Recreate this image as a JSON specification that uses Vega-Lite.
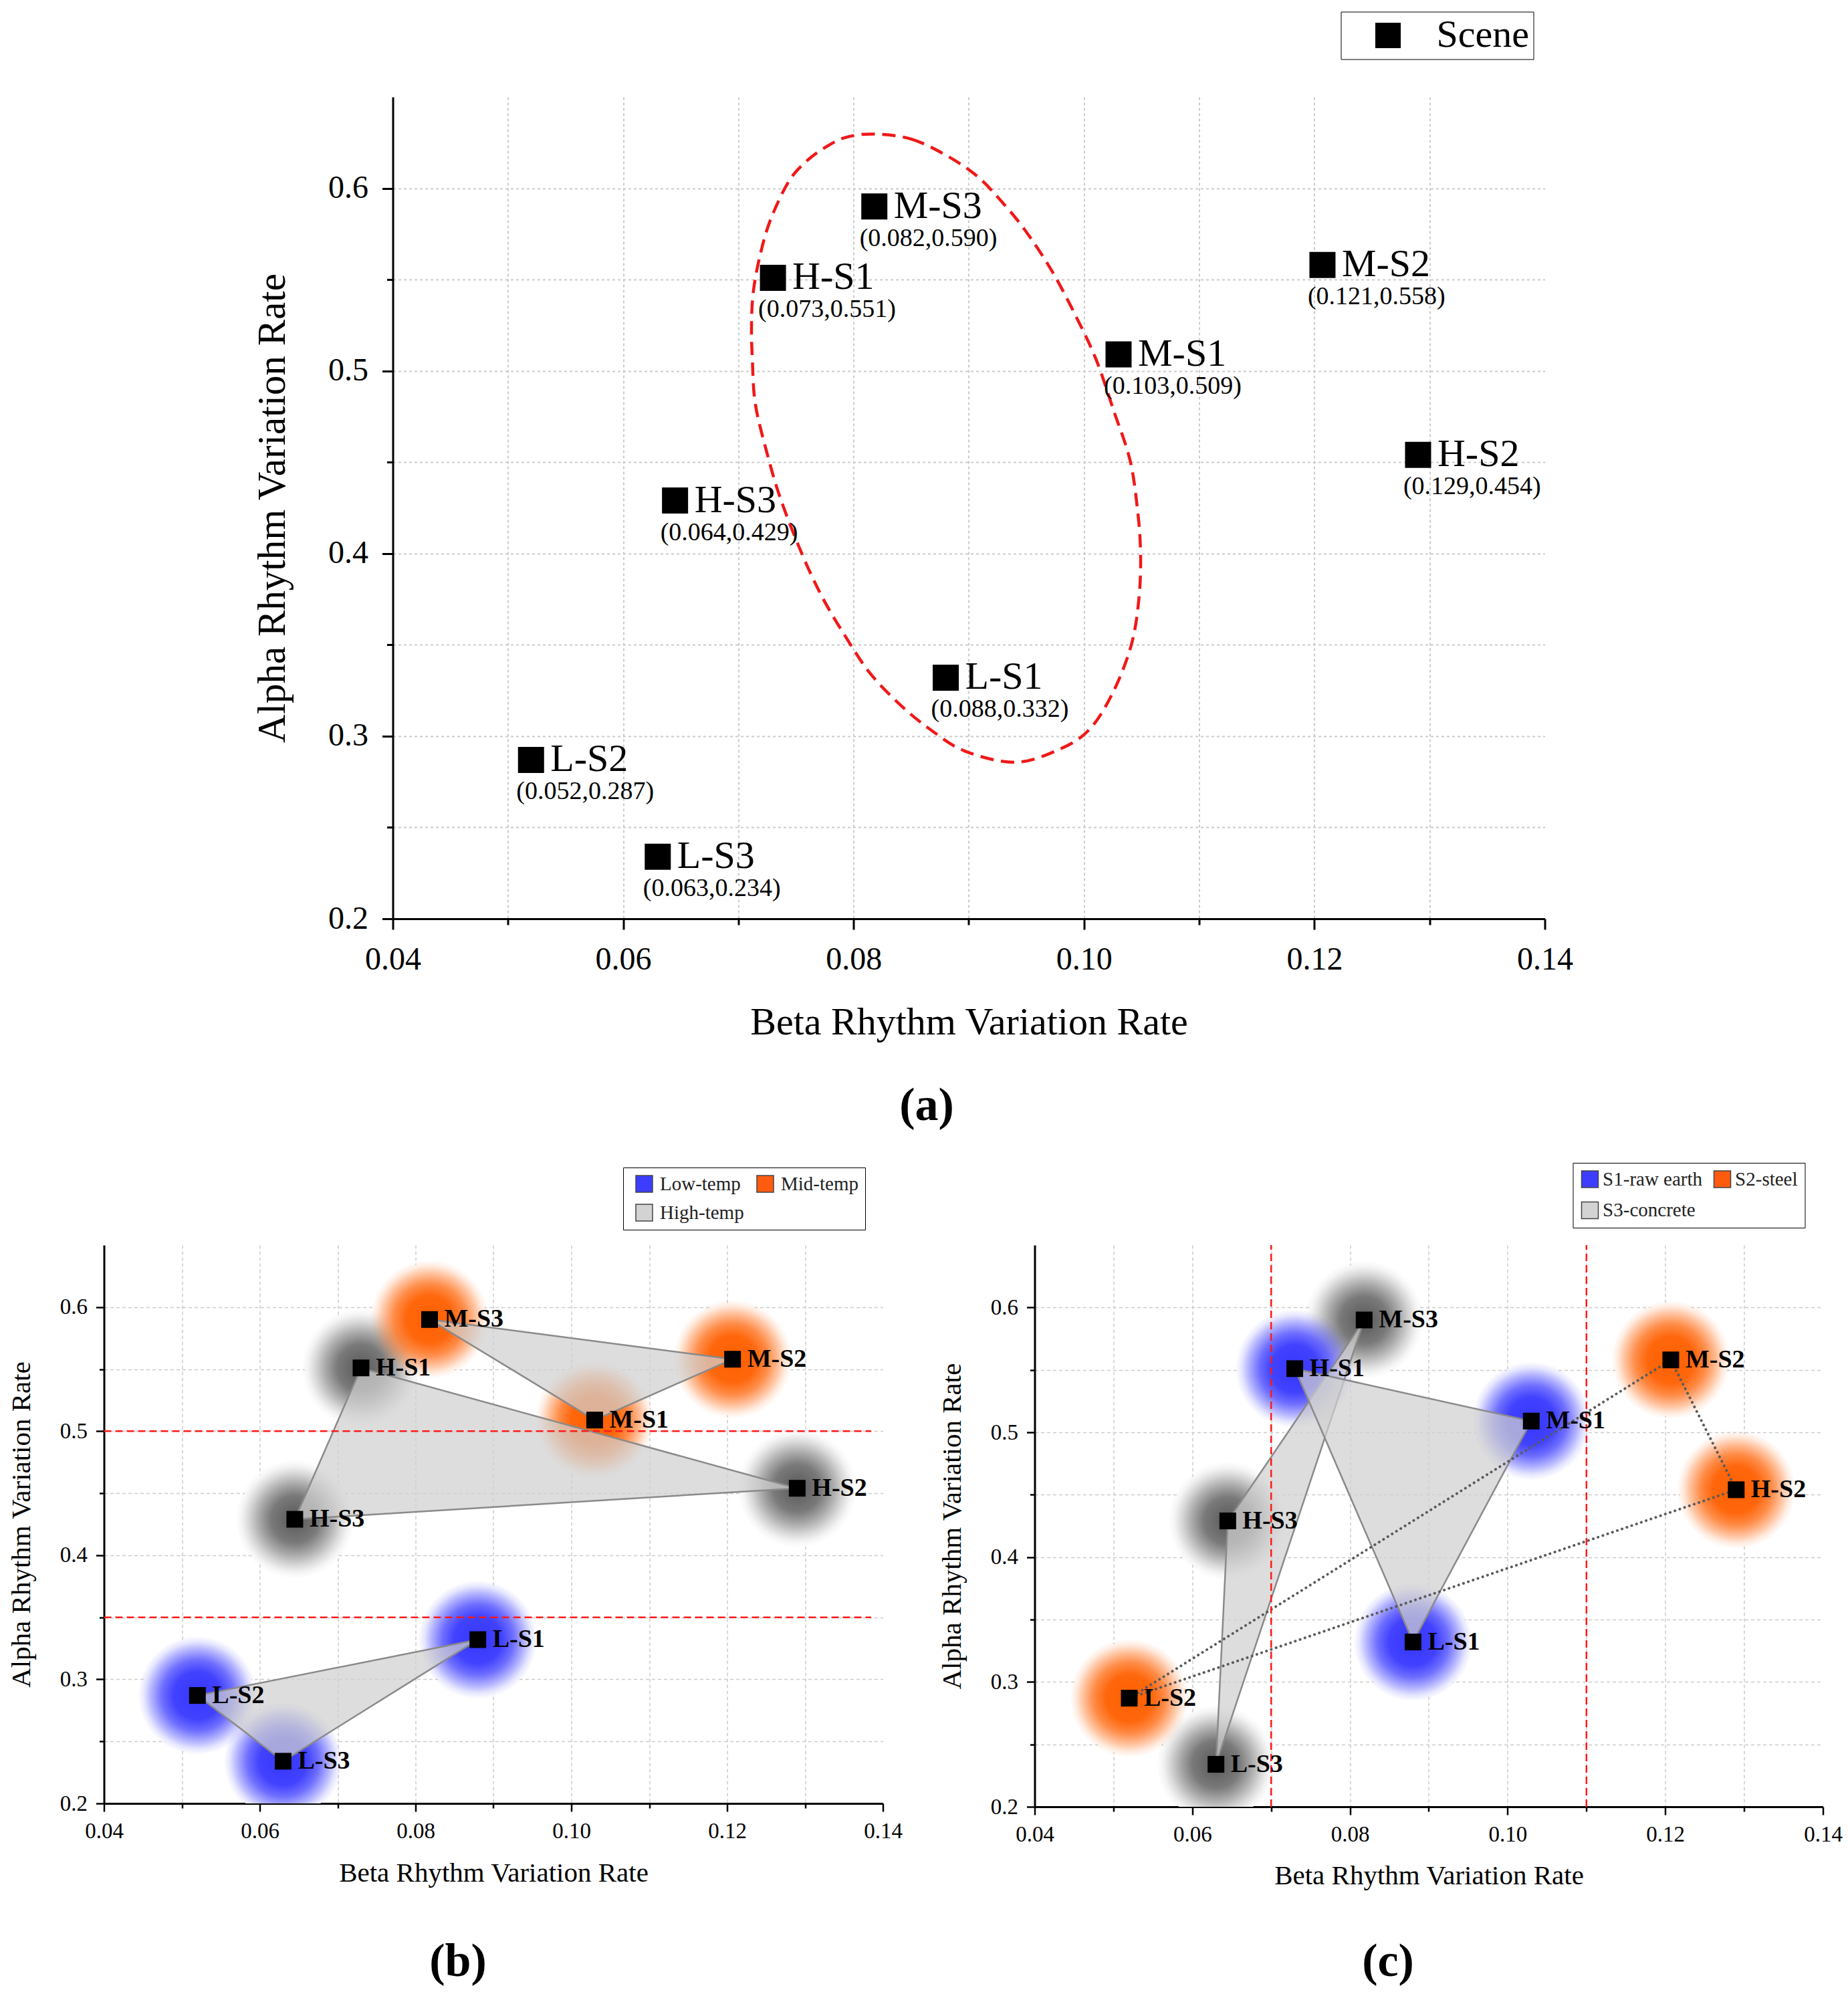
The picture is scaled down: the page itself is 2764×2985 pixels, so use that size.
{
"$schema": "https://vega.github.io/schema/vega-lite/v6.json",
"background": "#ffffff",
"padding": {"left": 11.5, "top": 17, "right": 10, "bottom": 10},
"config": {
 "font": "Liberation Serif",
 "view": {"stroke": null},
 "axis": {"labelFont": "Liberation Serif", "titleFont": "Liberation Serif", "labelColor": "#000", "titleColor": "#000", "domainColor": "#000", "tickColor": "#000", "titleFontWeight": "normal", "labelFlush": false, "labelOverlap": false},
 "legend": {"labelFont": "Liberation Serif"},
 "title": {"font": "Liberation Serif", "color": "#000"}
},
"datasets": {
 "pts": [
  {"name":"M-S3","x":0.0818,"y":0.590,"coord":"(0.082,0.590)","temp":"Mid-temp","scene":"S3-concrete"},
  {"name":"H-S1","x":0.073,"y":0.551,"coord":"(0.073,0.551)","temp":"High-temp","scene":"S1-raw earth"},
  {"name":"M-S2","x":0.1207,"y":0.558,"coord":"(0.121,0.558)","temp":"Mid-temp","scene":"S2-steel"},
  {"name":"M-S1","x":0.103,"y":0.509,"coord":"(0.103,0.509)","temp":"Mid-temp","scene":"S1-raw earth"},
  {"name":"H-S2","x":0.129,"y":0.454,"coord":"(0.129,0.454)","temp":"High-temp","scene":"S2-steel"},
  {"name":"H-S3","x":0.0645,"y":0.429,"coord":"(0.064,0.429)","temp":"High-temp","scene":"S3-concrete"},
  {"name":"L-S1","x":0.088,"y":0.332,"coord":"(0.088,0.332)","temp":"Low-temp","scene":"S1-raw earth"},
  {"name":"L-S2","x":0.052,"y":0.287,"coord":"(0.052,0.287)","temp":"Low-temp","scene":"S2-steel"},
  {"name":"L-S3","x":0.063,"y":0.234,"coord":"(0.063,0.234)","temp":"Low-temp","scene":"S3-concrete"}
 ],
 "ellipse": [
  {"i":1,"x":0.0818,"y":0.6297},{"i":2,"x":0.08503,"y":0.6269},{"i":3,"x":0.08813,"y":0.6177},
  {"i":4,"x":0.09071,"y":0.6067},{"i":5,"x":0.09277,"y":0.5933},{"i":6,"x":0.09484,"y":0.5774},
  {"i":7,"x":0.09716,"y":0.5553},{"i":8,"x":0.09923,"y":0.5308},{"i":9,"x":0.10104,"y":0.5064},
  {"i":10,"x":0.10258,"y":0.4782},{"i":11,"x":0.10400,"y":0.4510},{"i":12,"x":0.10465,"y":0.4237},
  {"i":13,"x":0.10491,"y":0.4005},{"i":14,"x":0.10478,"y":0.3761},{"i":15,"x":0.10413,"y":0.3505},
  {"i":16,"x":0.10258,"y":0.3248},{"i":17,"x":0.10052,"y":0.3040},{"i":18,"x":0.09794,"y":0.2930},
  {"i":19,"x":0.09406,"y":0.2857},{"i":20,"x":0.08967,"y":0.2918},{"i":21,"x":0.08658,"y":0.3040},
  {"i":22,"x":0.08399,"y":0.3175},{"i":23,"x":0.08141,"y":0.3346},{"i":24,"x":0.07934,"y":0.3541},
  {"i":25,"x":0.07728,"y":0.3761},{"i":26,"x":0.07547,"y":0.4005},{"i":27,"x":0.07367,"y":0.4298},
  {"i":28,"x":0.07250,"y":0.4546},{"i":29,"x":0.07147,"y":0.4819},{"i":30,"x":0.07121,"y":0.5064},
  {"i":31,"x":0.07114,"y":0.5247},{"i":32,"x":0.07129,"y":0.5431},{"i":33,"x":0.07186,"y":0.5627},
  {"i":34,"x":0.07276,"y":0.5823},{"i":35,"x":0.07431,"y":0.6031},{"i":36,"x":0.07578,"y":0.6141},
  {"i":37,"x":0.07754,"y":0.6224},{"i":38,"x":0.07935,"y":0.6279}
 ],
 "hlines": [{"x":0.04,"x2":0.1385,"y":0.5},{"x":0.04,"x2":0.1385,"y":0.35}],
 "vlines": [{"x":0.07,"y":0.2,"y2":0.65},{"x":0.11,"y":0.2,"y2":0.65}]
},
"resolve": {"scale": {"color": "independent", "fill": "independent"}, "legend": {"color": "independent", "fill": "independent"}},
"spacing": 49,
"vconcat": [
 {
  "resolve": {"scale": {"color": "independent"}, "legend": {"color": "independent"}},
  "hconcat": [
   {"width": 432, "height": 10, "data": {"values": []}, "mark": {"type": "point", "opacity": 0}},
   {
    "width": 1723, "height": 1229,
    "title": {"text": "(a)", "orient": "bottom", "anchor": "middle", "frame": "group", "dx": -63, "offset": 116, "baseline": "alphabetic", "fontSize": 70, "fontWeight": "bold"},
    "encoding": {
     "x": {"field":"x","type":"quantitative","scale":{"domain":[0.04,0.14],"nice":false,"zero":false},
       "axis":{"title":"Beta Rhythm Variation Rate","values":[0.04,0.05,0.06,0.07,0.08,0.09,0.1,0.11,0.12,0.13,0.14],"format":".2f","labelExpr":"round(datum.value*100)%2==0 ? datum.label : ''","labelFontSize":48,"labelPadding":21,"tickSize":{"condition":{"test":"round(datum.value*100)%2==0","value":16},"value":9},"tickWidth":3,"domainWidth":3,"grid":true,"gridColor":"#cbcbcb","gridDash":[4,4],"gridWidth":2,"gridOpacity":{"condition":{"test":"datum.value<0.045||datum.value>0.135","value":0},"value":1},"titleFontSize":58,"titleBaseline":"alphabetic","titleY":172.5}},
     "y": {"field":"y","type":"quantitative","scale":{"domain":[0.2,0.65],"nice":false,"zero":false},
       "axis":{"title":"Alpha Rhythm Variation Rate","values":[0.2,0.25,0.3,0.35,0.4,0.45,0.5,0.55,0.6],"format":".1f","labelExpr":"round(datum.value*20)%2==0 ? datum.label : ''","labelFontSize":48,"labelPadding":21,"tickSize":{"condition":{"test":"round(datum.value*20)%2==0","value":16},"value":9},"tickWidth":3,"domainWidth":3,"grid":true,"gridColor":"#cbcbcb","gridDash":[4,4],"gridWidth":2,"gridOpacity":{"condition":{"test":"datum.value<0.21","value":0},"value":1},"titleFontSize":59,"titleBaseline":"alphabetic","titleX":-162}}
    },
    "layer": [
     {"data": {"name": "ellipse"}, "mark": {"type":"line","interpolate":"cardinal-closed","stroke":"#f01818","strokeWidth":4.5,"strokeDash":[20,11]}, "encoding": {"order": {"field":"i","type":"quantitative"}}},
     {"data": {"name": "pts"}, "mark": {"type":"square","size":1521,"opacity":1},
      "encoding": {"color": {"datum":"Scene","type":"nominal","scale":{"range":["#000000"]},
        "legend":{"orient":"none","legendX":1418,"legendY":-127.5,"title":null,"symbolType":"square","symbolSize":1444,"symbolOpacity":1,"symbolStrokeWidth":0,"labelFontSize":58,"labelColor":"#000","padding":6.5,"symbolOffset":35,"labelOffset":43.5,"strokeColor":"#000","fillColor":"#ffffff"}}}},
     {"data": {"name": "pts"}, "mark": {"type":"text","align":"left","baseline":"middle","dx":29,"fontSize":58,"fontWeight":"normal","color":"#000"}, "encoding": {"text": {"field":"name"}}},
     {"data": {"name": "pts"}, "mark": {"type":"text","align":"left","baseline":"middle","dx":-22,"dy":48,"fontSize":38,"color":"#000"}, "encoding": {"text": {"field":"coord"}}}
    ]
   }
  ],
  "spacing": 0,
  "bounds": "flush"
 },
 {
  "resolve": {"scale": {"fill": "independent"}, "legend": {"fill": "independent"}},
  "hconcat": [
   {
    "width": 1165, "height": 835,
    "title": {"text": "(b)", "orient": "bottom", "anchor": "middle", "frame": "group", "dx": -53, "offset": 133.8, "baseline": "alphabetic", "fontSize": 70, "fontWeight": "bold"},
    "data": {"name": "pts"},
    "encoding": {
     "x": {"field":"x","type":"quantitative","scale":{"domain":[0.04,0.14],"nice":false,"zero":false},
       "axis":{"title":"Beta Rhythm Variation Rate","values":[0.04,0.05,0.06,0.07,0.08,0.09,0.1,0.11,0.12,0.13,0.14],"format":".2f","labelExpr":"round(datum.value*100)%2==0 ? datum.label : ''","labelFontSize":33,"labelPadding":13,"tickSize":{"condition":{"test":"round(datum.value*100)%2==0","value":12},"value":7},"tickWidth":2.5,"domainWidth":3,"grid":true,"gridColor":"#cccccc","gridDash":[5,4],"gridWidth":1.5,"gridOpacity":{"condition":{"test":"datum.value<0.045||datum.value>0.135","value":0},"value":1},"titleFontSize":41,"titleBaseline":"alphabetic","titleY":116}},
     "y": {"field":"y","type":"quantitative","scale":{"domain":[0.2,0.65],"nice":false,"zero":false},
       "axis":{"title":"Alpha Rhythm Variation Rate","values":[0.2,0.25,0.3,0.35,0.4,0.45,0.5,0.55,0.6],"format":".1f","labelExpr":"round(datum.value*20)%2==0 ? datum.label : ''","labelFontSize":33,"labelPadding":13,"tickSize":{"condition":{"test":"round(datum.value*20)%2==0","value":12},"value":7},"tickWidth":2.5,"domainWidth":3,"grid":true,"gridColor":"#cccccc","gridDash":[5,4],"gridWidth":1.5,"gridOpacity":{"condition":{"test":"datum.value<0.21","value":0},"value":1},"titleFontSize":41,"titleBaseline":"alphabetic","titleX":-110.7}}
    },
    "layer": [
     {"mark":{"type":"circle","size":28353,"opacity":1,"strokeWidth":0,"fill":"#ffffff","clip":true}},
     {"transform":[{"filter":"datum.temp==='High-temp'"}],"mark":{"type":"circle","size":31416,"opacity":1,"strokeWidth":0,"clip":true,"fill":{"gradient":"radial","x1":0.5,"y1":0.5,"r1":0,"x2":0.5,"y2":0.5,"r2":0.5,"stops":[{"offset":0,"color":"rgba(65,65,65,0.88)"},{"offset":0.4,"color":"rgba(65,65,65,0.7)"},{"offset":0.6,"color":"rgba(65,65,65,0.45)"},{"offset":0.78,"color":"rgba(65,65,65,0.2)"},{"offset":0.9,"color":"rgba(65,65,65,0.06)"},{"offset":1,"color":"rgba(65,65,65,0)"}]}}},
     {"transform":[{"filter":"datum.temp==='Mid-temp'"}],"mark":{"type":"circle","size":31416,"opacity":1,"strokeWidth":0,"clip":true,"fill":{"gradient":"radial","x1":0.5,"y1":0.5,"r1":0,"x2":0.5,"y2":0.5,"r2":0.5,"stops":[{"offset":0,"color":"rgba(255,95,0,1)"},{"offset":0.4,"color":"rgba(255,95,0,0.95)"},{"offset":0.6,"color":"rgba(255,95,0,0.72)"},{"offset":0.78,"color":"rgba(255,95,0,0.38)"},{"offset":0.9,"color":"rgba(255,95,0,0.13)"},{"offset":1,"color":"rgba(255,95,0,0)"}]}}},
     {"transform":[{"filter":"datum.temp==='Low-temp'"}],"mark":{"type":"circle","size":31416,"opacity":1,"strokeWidth":0,"clip":true,"fill":{"gradient":"radial","x1":0.5,"y1":0.5,"r1":0,"x2":0.5,"y2":0.5,"r2":0.5,"stops":[{"offset":0,"color":"rgba(55,55,255,1)"},{"offset":0.4,"color":"rgba(55,55,255,0.95)"},{"offset":0.6,"color":"rgba(55,55,255,0.72)"},{"offset":0.78,"color":"rgba(55,55,255,0.38)"},{"offset":0.9,"color":"rgba(55,55,255,0.13)"},{"offset":1,"color":"rgba(55,55,255,0)"}]}}},
     {"mark":{"type":"line","interpolate":"linear-closed","fill":"#d0d0d0","fillOpacity":0.72,"stroke":"#8a8a8a","strokeWidth":2.5},"encoding":{"detail":{"field":"temp"}}},
     {"data":{"name":"hlines"},"mark":{"type":"rule","stroke":"#ff1a1a","strokeWidth":2.5,"strokeDash":[11,6]},"encoding":{"x2":{"field":"x2"}}},
     {"mark":{"type":"square","size":625,"color":"#000","opacity":1}},
     {"mark":{"type":"text","align":"left","baseline":"middle","dx":22,"fontSize":38,"fontWeight":"bold","color":"#000"},"encoding":{"text":{"field":"name"}}},
     {"mark":{"type":"square","size":10,"opacity":0},"encoding":{"fill":{"field":"temp","type":"nominal","scale":{"domain":["Low-temp","Mid-temp","High-temp"],"range":["#3d3dff","#ff5b0f","#d3d3d3"]},
       "legend":{"orient":"none","direction":"horizontal","legendX":776.5,"legendY":-116,"title":null,"columns":2,"columnPadding":10,"rowPadding":12,"symbolType":"square","symbolSize":625,"symbolOpacity":1,"symbolStrokeColor":"#444","symbolStrokeWidth":1.5,"symbolOffset":7,"labelOffset":9,"labelFontSize":29,"labelColor":"#222","padding":10,"strokeColor":"#000","fillColor":"#ffffff"}}}}
    ]
   },
   {
    "width": 1179, "height": 840,
    "title": {"text": "(c)", "orient": "bottom", "anchor": "middle", "frame": "group", "dx": -61, "offset": 129.8, "baseline": "alphabetic", "fontSize": 70, "fontWeight": "bold"},
    "data": {"name": "pts"},
    "encoding": {
     "x": {"field":"x","type":"quantitative","scale":{"domain":[0.04,0.14],"nice":false,"zero":false},
       "axis":{"title":"Beta Rhythm Variation Rate","values":[0.04,0.05,0.06,0.07,0.08,0.09,0.1,0.11,0.12,0.13,0.14],"format":".2f","labelExpr":"round(datum.value*100)%2==0 ? datum.label : ''","labelFontSize":33,"labelPadding":13,"tickSize":{"condition":{"test":"round(datum.value*100)%2==0","value":12},"value":7},"tickWidth":2.5,"domainWidth":3,"grid":true,"gridColor":"#cccccc","gridDash":[5,4],"gridWidth":1.5,"gridOpacity":{"condition":{"test":"datum.value<0.045||datum.value>0.135","value":0},"value":1},"titleFontSize":41,"titleBaseline":"alphabetic","titleY":115}},
     "y": {"field":"y","type":"quantitative","scale":{"domain":[0.2,0.65],"nice":false,"zero":false},
       "axis":{"title":"Alpha Rhythm Variation Rate","values":[0.2,0.25,0.3,0.35,0.4,0.45,0.5,0.55,0.6],"format":".1f","labelExpr":"round(datum.value*20)%2==0 ? datum.label : ''","labelFontSize":33,"labelPadding":13,"tickSize":{"condition":{"test":"round(datum.value*20)%2==0","value":12},"value":7},"tickWidth":2.5,"domainWidth":3,"grid":true,"gridColor":"#cccccc","gridDash":[5,4],"gridWidth":1.5,"gridOpacity":{"condition":{"test":"datum.value<0.21","value":0},"value":1},"titleFontSize":41,"titleBaseline":"alphabetic","titleX":-111}}
    },
    "layer": [
     {"mark":{"type":"circle","size":28353,"opacity":1,"strokeWidth":0,"fill":"#ffffff","clip":true}},
     {"transform":[{"filter":"datum.scene==='S3-concrete'"}],"mark":{"type":"circle","size":31416,"opacity":1,"strokeWidth":0,"clip":true,"fill":{"gradient":"radial","x1":0.5,"y1":0.5,"r1":0,"x2":0.5,"y2":0.5,"r2":0.5,"stops":[{"offset":0,"color":"rgba(65,65,65,0.88)"},{"offset":0.4,"color":"rgba(65,65,65,0.7)"},{"offset":0.6,"color":"rgba(65,65,65,0.45)"},{"offset":0.78,"color":"rgba(65,65,65,0.2)"},{"offset":0.9,"color":"rgba(65,65,65,0.06)"},{"offset":1,"color":"rgba(65,65,65,0)"}]}}},
     {"transform":[{"filter":"datum.scene==='S2-steel'"}],"mark":{"type":"circle","size":31416,"opacity":1,"strokeWidth":0,"clip":true,"fill":{"gradient":"radial","x1":0.5,"y1":0.5,"r1":0,"x2":0.5,"y2":0.5,"r2":0.5,"stops":[{"offset":0,"color":"rgba(255,95,0,1)"},{"offset":0.4,"color":"rgba(255,95,0,0.95)"},{"offset":0.6,"color":"rgba(255,95,0,0.72)"},{"offset":0.78,"color":"rgba(255,95,0,0.38)"},{"offset":0.9,"color":"rgba(255,95,0,0.13)"},{"offset":1,"color":"rgba(255,95,0,0)"}]}}},
     {"transform":[{"filter":"datum.scene==='S1-raw earth'"}],"mark":{"type":"circle","size":31416,"opacity":1,"strokeWidth":0,"clip":true,"fill":{"gradient":"radial","x1":0.5,"y1":0.5,"r1":0,"x2":0.5,"y2":0.5,"r2":0.5,"stops":[{"offset":0,"color":"rgba(55,55,255,1)"},{"offset":0.4,"color":"rgba(55,55,255,0.95)"},{"offset":0.6,"color":"rgba(55,55,255,0.72)"},{"offset":0.78,"color":"rgba(55,55,255,0.38)"},{"offset":0.9,"color":"rgba(55,55,255,0.13)"},{"offset":1,"color":"rgba(55,55,255,0)"}]}}},
     {"transform":[{"filter":"datum.scene!=='S2-steel'"}],"mark":{"type":"line","interpolate":"linear-closed","fill":"#d0d0d0","fillOpacity":0.72,"stroke":"#8a8a8a","strokeWidth":2.5},"encoding":{"detail":{"field":"scene"}}},
     {"transform":[{"filter":"datum.scene==='S2-steel'"}],"mark":{"type":"line","interpolate":"linear-closed","stroke":"#5a5a5a","strokeWidth":4,"strokeCap":"round","strokeDash":[0.1,7.5]}},
     {"data":{"name":"vlines"},"mark":{"type":"rule","stroke":"#ff1a1a","strokeWidth":2.5,"strokeDash":[11,6]},"encoding":{"y2":{"field":"y2"}}},
     {"mark":{"type":"square","size":625,"color":"#000","opacity":1}},
     {"mark":{"type":"text","align":"left","baseline":"middle","dx":22,"fontSize":38,"fontWeight":"bold","color":"#000"},"encoding":{"text":{"field":"name"}}},
     {"mark":{"type":"square","size":10,"opacity":0},"encoding":{"fill":{"field":"scene","type":"nominal","scale":{"domain":["S1-raw earth","S2-steel","S3-concrete"],"range":["#3d3dff","#ff5b0f","#d3d3d3"]},
       "legend":{"orient":"none","direction":"horizontal","legendX":805,"legendY":-123,"title":null,"columns":2,"columnPadding":14,"rowPadding":15.5,"symbolType":"square","symbolSize":625,"symbolOpacity":1,"symbolStrokeColor":"#444","symbolStrokeWidth":1.5,"symbolOffset":1,"labelOffset":4.6,"labelFontSize":29,"labelColor":"#222","padding":10,"strokeColor":"#000","fillColor":"#ffffff"}}}}
    ]
   }
  ],
  "spacing": 227,
  "bounds": "flush"
 }
]
}
